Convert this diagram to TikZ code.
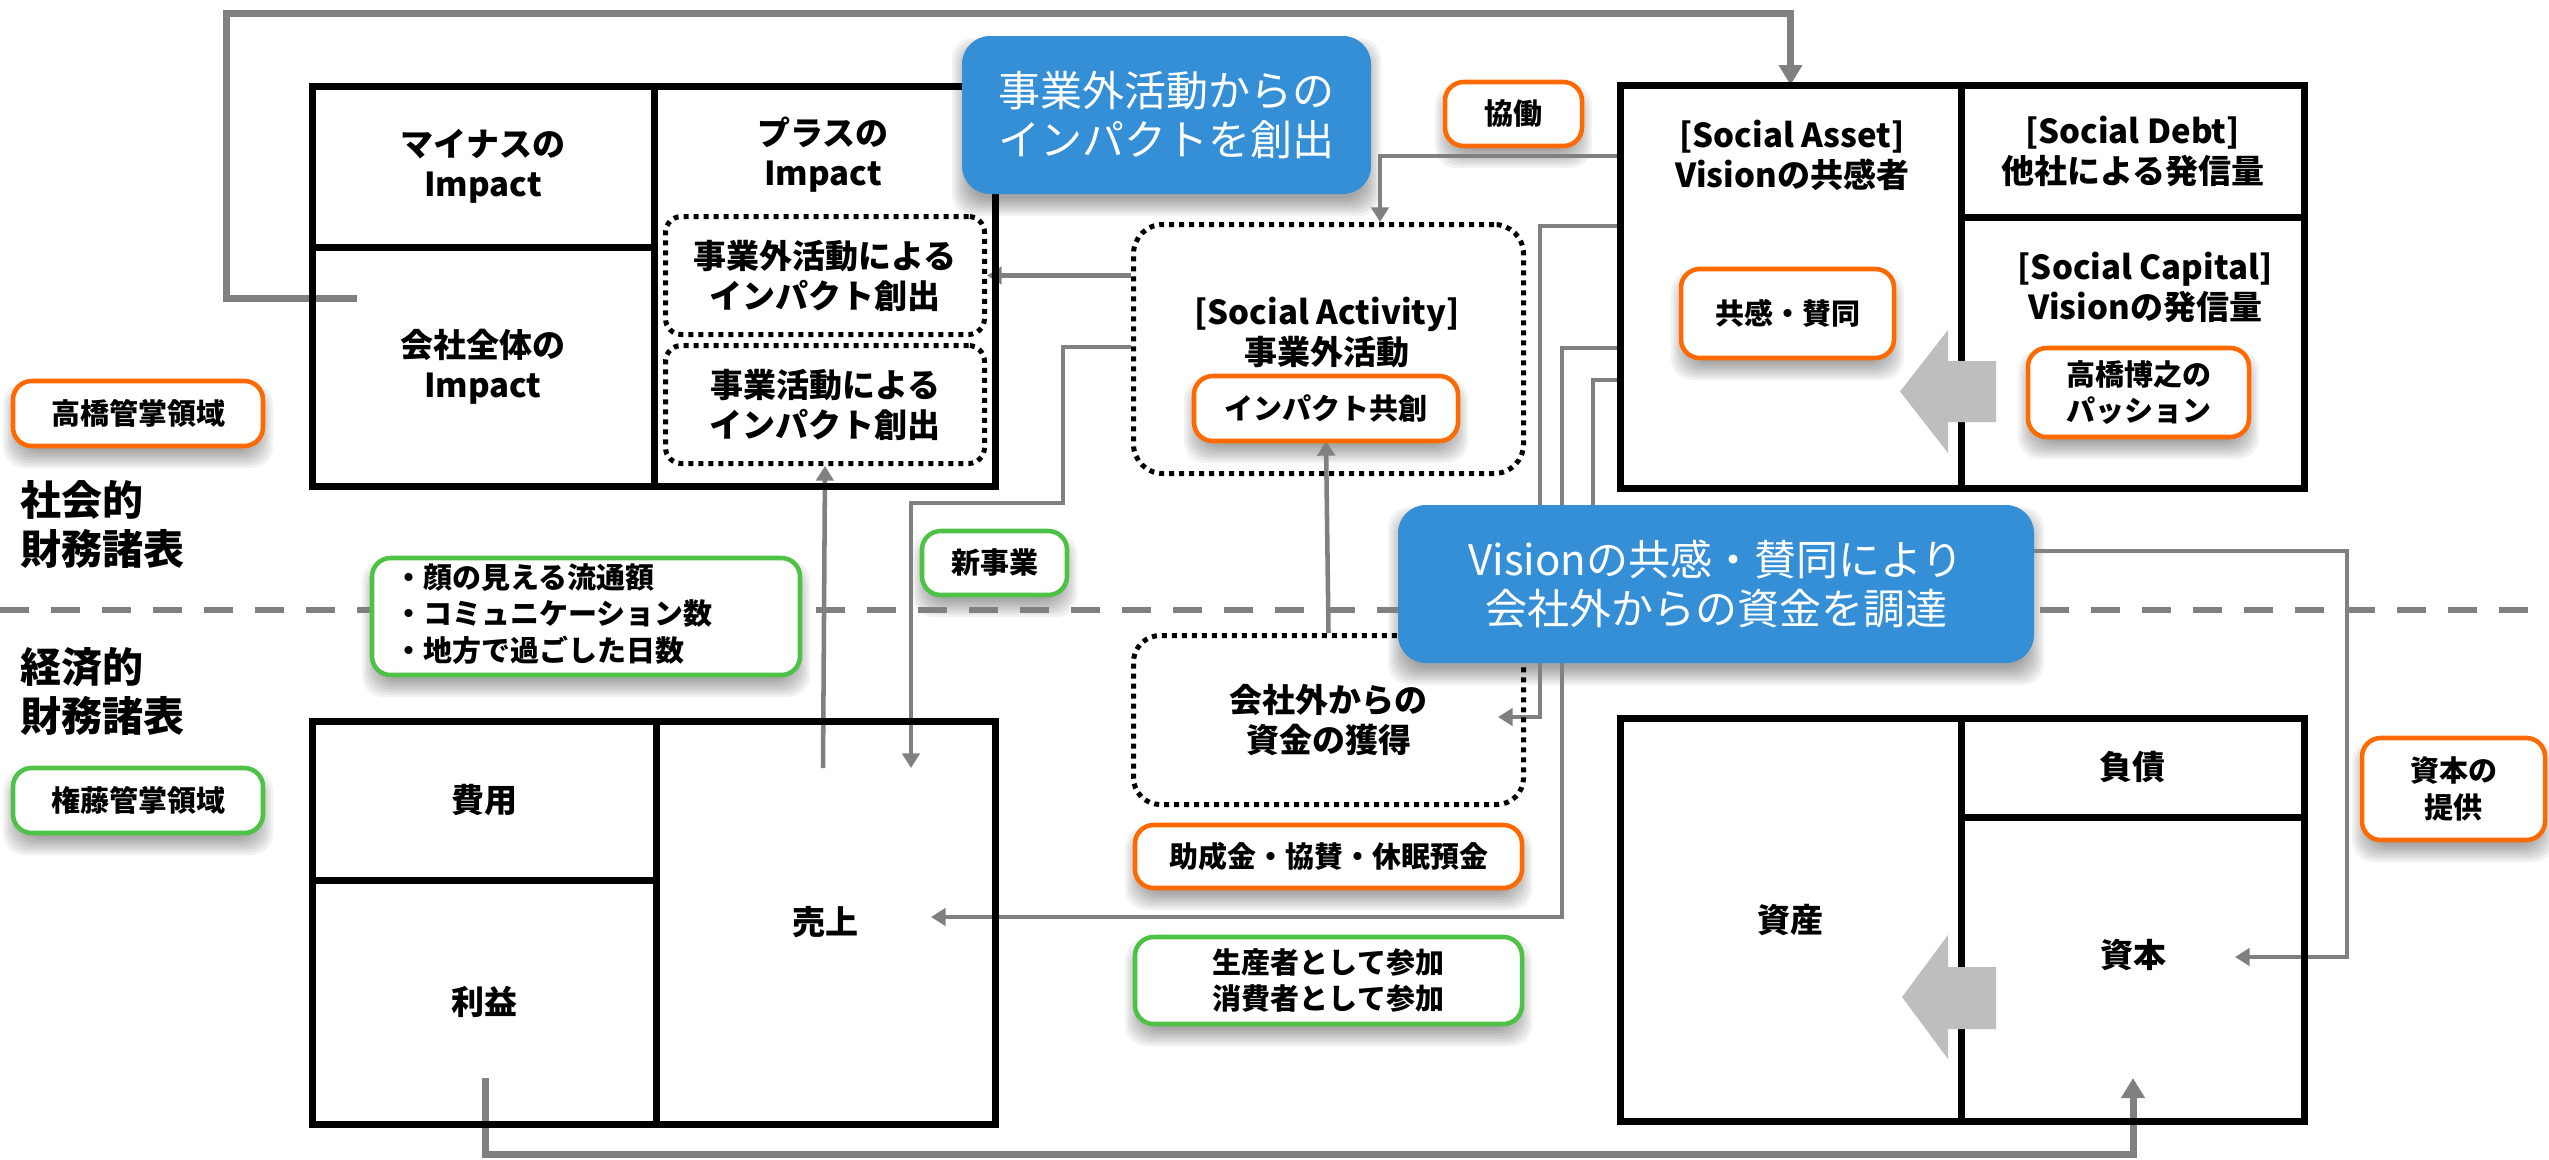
\documentclass[tikz,border=0pt]{standalone}
\usepackage{fontspec}
\setmainfont{Noto Sans CJK JP}
\usetikzlibrary{arrows.meta}
\definecolor{cblue}{RGB}{53,143,214}
\definecolor{corange}{RGB}{255,106,0}
\definecolor{cgreen}{RGB}{77,194,71}
\definecolor{cgray}{RGB}{128,128,128}
\definecolor{carrow}{RGB}{190,190,190}
\newcommand\fontTbl{\fontsize{24.75pt}{30pt}\selectfont}
\newcommand\fontLbl{\fontsize{21.75pt}{27.5pt}\selectfont}
\newcommand\fontBlu{\fontsize{31.5pt}{36.75pt}\selectfont}
\newcommand\fontHead{\fontsize{30.75pt}{36.75pt}\selectfont}
\newcommand\pxl[1]{#1*0.75pt}
\newcommand\shadowof[1]{%
  \foreach \k in {1,...,8}{%
    \pgfmathsetmacro\dd{(\k-4)*2.5}%
    \fill[black,opacity=0.05,rounded corners=16pt]
      ([shift={(-\dd,12-\dd)}]#1.north west) rectangle ([shift={(\dd,12+\dd)}]#1.south east);}}
\pgfdeclarelayer{back}
\pgfdeclarelayer{shad}
\pgfdeclarelayer{bg}
\pgfsetlayers{back,shad,bg,main}
\begin{document}
\begin{tikzpicture}[x=0.75pt,y=-0.75pt,
  tbl/.style={draw=black,line width=5.25pt,inner sep=0pt,outer sep=0pt,anchor=north west,align=center,font=\fontTbl\bfseries},
  txt/.style={align=center,font=\fontTbl\bfseries,inner sep=0pt},
  dotbox/.style={draw=black,line width=3.75pt,dash pattern=on 3.75pt off 3.75pt,rounded corners=#1,inner sep=0pt,anchor=north west,align=center,font=\fontTbl\bfseries},
  lbl/.style={draw=#1,line width=3.4pt,fill=white,rounded corners=14pt,inner sep=0pt,outer sep=0pt,align=center,font=\fontLbl\bfseries},
  bluebox/.style={fill=cblue,rounded corners=21pt,inner sep=0pt,outer sep=0pt,align=center,text=white,font=\fontBlu},
  conn/.style={draw=cgray,line width=3.4pt,-{Triangle[length=11pt,width=13pt]}},
  plainconn/.style={draw=cgray,line width=3.4pt},
  bigline/.style={draw=cgray,line width=5.25pt,-{Triangle[length=15pt,width=17pt]}},
  bigarrow/.style={fill=carrow},
]
\useasboundingbox (0,0) rectangle (2549,1160);
\begin{pgfonlayer}{back}
\fill[white] (0,0) rectangle (2549,1160);
\end{pgfonlayer}

% ---------- social statements, left ----------
\node[tbl,minimum width=\pxl{342},minimum height=\pxl{161}] (stMinus) at (312,86) {マイナスの\\Impact};
\node[tbl,minimum width=\pxl{342},minimum height=\pxl{239}] (stTotal) at (312,247) {会社全体の\\Impact};
\node[tbl,minimum width=\pxl{341},minimum height=\pxl{400}] (stPlus) at (654,86) {};
\node[txt] (tPlus) at (823,155) {プラスの\\Impact};
\node[dotbox=12pt,minimum width=\pxl{319},minimum height=\pxl{118}] (dB1) at (663,214) {事業外活動による\\インパクト創出};
\node[dotbox=12pt,minimum width=\pxl{319},minimum height=\pxl{118}] (dB2) at (663,343) {事業活動による\\インパクト創出};

% ---------- social statements, right ----------
\node[tbl,minimum width=\pxl{341},minimum height=\pxl{403}] (sAsset) at (1620,85) {};
\node[txt] (tAsset) at (1792,155) {[Social Asset]\\Visionの共感者};
\node[tbl,minimum width=\pxl{343},minimum height=\pxl{132}] (sDebt) at (1961,85) {[Social Debt]\\他社による発信量};
\node[tbl,minimum width=\pxl{343},minimum height=\pxl{271}] (sCap) at (1961,217) {};
\node[txt] (tCap) at (2145,287) {[Social Capital]\\Visionの発信量};

% ---------- economic statements, left ----------
\node[tbl,minimum width=\pxl{344},minimum height=\pxl{159}] (eCost) at (312,721) {費用};
\node[tbl,minimum width=\pxl{344},minimum height=\pxl{244}] (eProfit) at (312,880) {利益};
\node[tbl,minimum width=\pxl{339},minimum height=\pxl{403}] (eSales) at (656,721) {売上};

% ---------- economic statements, right ----------
\node[tbl,minimum width=\pxl{341},minimum height=\pxl{403}] (eAsset) at (1620,718) {資産};
\node[tbl,minimum width=\pxl{343},minimum height=\pxl{99}] (eDebt) at (1961,718) {負債};
\node[tbl,minimum width=\pxl{343},minimum height=\pxl{304}] (eCapital) at (1961,817) {};
\node[txt] (tCapital) at (2133,955) {資本};

% ---------- middle dotted boxes ----------
\node[dotbox=22pt,minimum width=\pxl{390},minimum height=\pxl{249}] (sAct) at (1131,222) {};
\node[txt] (tAct) at (1327,333) {[Social Activity]\\事業外活動};
\node[dotbox=20pt,minimum width=\pxl{390},minimum height=\pxl{169}] (gAcq) at (1131,633) {会社外からの\\資金の獲得};

% ---------- big grey arrows ----------
\fill[bigarrow] (1996,361) -- (1948,361) -- (1948,330) -- (1900,391.5) -- (1948,453) -- (1948,422) -- (1996,422) -- cycle;
\fill[bigarrow] (1996,967) -- (1948,967) -- (1948,935) -- (1902,997) -- (1948,1059) -- (1948,1029) -- (1996,1029) -- cycle;

% ---------- side headings ----------
\node[anchor=west,align=left,inner sep=0pt,font=\fontHead\bfseries] (hSoc) at (20,524) {社会的\\財務諸表};
\node[anchor=west,align=left,inner sep=0pt,font=\fontHead\bfseries] (hEco) at (20,691) {経済的\\財務諸表};

% ---------- labels ----------
\node[lbl=corange,minimum width=\pxl{264},minimum height=\pxl{65}] (coSo) at (1326,408.5) {インパクト共創};
\node[lbl=corange,minimum width=\pxl{137},minimum height=\pxl{64}] (kyodo) at (1513.5,114) {協働};
\node[lbl=corange,minimum width=\pxl{213},minimum height=\pxl{89}] (kyokan) at (1787.5,313.5) {共感・賛同};
\node[lbl=corange,minimum width=\pxl{221},minimum height=\pxl{89}] (passion) at (2138.5,392.5) {高橋博之の\\パッション};
\node[lbl=corange,minimum width=\pxl{250},minimum height=\pxl{65}] (takahashi) at (138,413.5) {高橋管掌領域};
\node[lbl=cgreen,minimum width=\pxl{250},minimum height=\pxl{65}] (gondo) at (138,800.5) {権藤管掌領域};
\node[lbl=cgreen,minimum width=\pxl{428},minimum height=\pxl{117}] (kpi) at (586,616.5) {};
\node[anchor=west,align=left,inner sep=0pt,font=\fontLbl\bfseries] (kpiTxt) at (394,614) {・顔の見える流通額\\・コミュニケーション数\\・地方で過ごした日数};
\node[lbl=cgreen,minimum width=\pxl{145},minimum height=\pxl{64}] (shinjigyo) at (994.5,563) {新事業};
\node[lbl=corange,minimum width=\pxl{387},minimum height=\pxl{63}] (josei) at (1328.5,856.5) {助成金・協賛・休眠預金};
\node[lbl=cgreen,minimum width=\pxl{387},minimum height=\pxl{87}] (sanka) at (1328.5,980.5) {生産者として参加\\消費者として参加};
\node[lbl=corange,minimum width=\pxl{183},minimum height=\pxl{102}] (shihon) at (2453.5,789) {資本の\\提供};

% ---------- blue callouts ----------
\node[bluebox,minimum width=\pxl{409},minimum height=\pxl{158}] (b1) at (1166.5,115) {事業外活動からの\\インパクトを創出};
\node[bluebox,minimum width=\pxl{636},minimum height=\pxl{158}] (b2) at (1716,584) {Visionの共感・賛同により\\会社外からの資金を調達};

% ---------- soft shadows ----------
\begin{pgfonlayer}{shad}
\shadowof{coSo}\shadowof{kyodo}\shadowof{kyokan}\shadowof{passion}
\shadowof{takahashi}\shadowof{gondo}\shadowof{kpi}\shadowof{shinjigyo}
\shadowof{josei}\shadowof{sanka}\shadowof{shihon}\shadowof{b1}\shadowof{b2}
\end{pgfonlayer}

% ---------- connectors (behind) ----------
\begin{pgfonlayer}{bg}
\draw[cgray,line width=4.5pt,dash pattern=on 21.75pt off 16.5pt] (0,610) -- (2549,610);
\coordinate (totalOut) at (357,298);
\coordinate (salesUp) at (823,768);
\coordinate (salesDown) at (911,768);
\coordinate (salesRight) at (931,917);
\coordinate (gIn) at (1498,717);
\coordinate (capIn) at (2235,957);
\coordinate (profitOut) at (485,1078);
\coordinate (capUp) at (2133,1078);
\draw[bigline] (totalOut) -- (226,298) |- (sAsset.north |- 0,13) -- (sAsset.north);
\draw[conn] (sAsset.west |- 0,156) -| (sAct.north -| 1380,0);
\draw[conn] (sAct.west |- dB1.east) -- (dB1.east);
\draw[conn] (sAct.west |- 0,347) -| (1063,503) -| (salesDown);
\draw[conn] (salesUp) -- (dB2.south);
\draw[conn] (gAcq.north) -- (coSo.south);
\draw[conn] (sAsset.west |- 0,226) -- (1540,226) -- (1540,717) -- (gIn);
\draw[conn] (sAsset.west |- 0,348) -- (1562,348) -- (1562,917) -- (salesRight);
\draw[plainconn] (sAsset.west |- 0,380) -| (b2.north -| 1593,0);
\draw[conn] (b2.east |- 0,551) -| (2347,957) -- (capIn);
\draw[bigline] (profitOut) -- (485,1154) -| (capUp);
\end{pgfonlayer}
\end{tikzpicture}
\end{document}
